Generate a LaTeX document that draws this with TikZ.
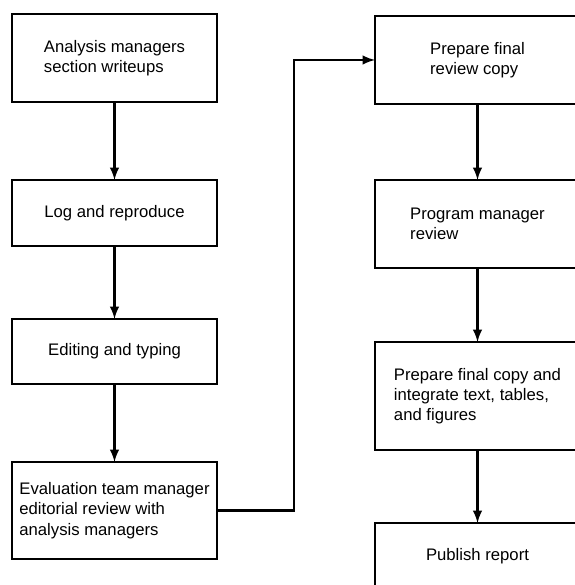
\documentclass[tikz,border=0pt]{standalone}
\usepackage{fontspec}
\setmainfont{Liberation Sans}
\usepackage{tikz}
\usetikzlibrary{arrows}

\tikzset{
    stagebox/.style={draw, line width=0.8pt, align=left, minimum width=4.1cm,
        inner sep=0pt, outer sep=0pt, font=\fontsize{9.5}{11.5}\selectfont},
    flow/.style={->, line width=1.4pt}
}

\begin{document}
\begin{tikzpicture}[>=latex]
        % Frame
        \useasboundingbox (0,0) rectangle (11.5,11.7);
        \clip (0,0) rectangle (11.5,11.7);

        % Left column
        \node[stagebox, minimum height=1.76cm] (writeups) at (2.29, 10.54) {Analysis managers\\section writeups};
        \node[stagebox, minimum height=1.32cm] (logrepro) at (2.29, 7.44) {Log and reproduce};
        \node[stagebox, minimum height=1.30cm] (editing) at (2.29, 4.67) {Editing and typing};
        \node[stagebox, minimum height=1.94cm] (evalreview) at (2.29, 1.49) {Evaluation team manager\\editorial review with\\analysis managers};

        % Right column
        \node[stagebox, minimum height=1.76cm] (reviewcopy) at (9.55, 10.50) {Prepare final\\review copy};
        \node[stagebox, minimum height=1.76cm] (pmreview) at (9.55, 7.22) {Program manager\\review};
        \node[stagebox, minimum height=2.16cm] (finalcopy) at (9.55, 3.78) {Prepare final copy and\\integrate text, tables,\\and figures};
        \node[stagebox, minimum height=1.32cm] (publish) at (9.55, 0.58) {Publish report};

        % Arrows
        \draw[flow] (writeups) -- (logrepro);
        \draw[flow] (logrepro) -- (editing);
        \draw[flow] (editing) -- (evalreview);

        \coordinate (jog) at (5.88, 10.50);
        \draw[flow] (evalreview.east) -| (jog) -- (reviewcopy.west);

        \draw[flow] (reviewcopy) -- (pmreview);
        \draw[flow] (pmreview) -- (finalcopy);
        \draw[flow] (finalcopy) -- (publish);
    \end{tikzpicture}
\end{document}
